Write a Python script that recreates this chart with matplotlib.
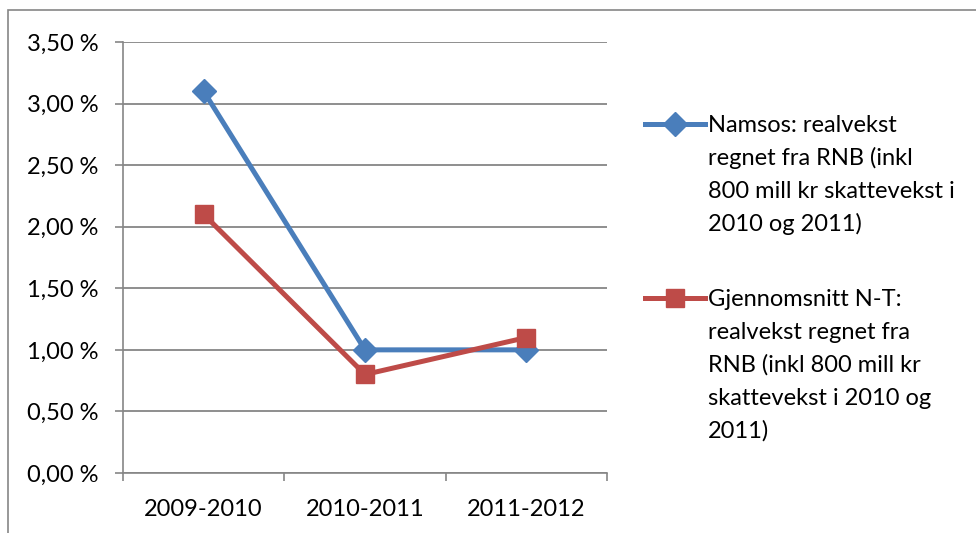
import matplotlib
matplotlib.use("Agg")
import matplotlib.pyplot as plt
from matplotlib.patches import Rectangle
from matplotlib.lines import Line2D

categories = ["2009-2010", "2010-2011", "2011-2012"]
namsos = [3.10, 1.00, 1.00]
snitt = [2.10, 0.80, 1.10]
yticks = [0.0, 0.5, 1.0, 1.5, 2.0, 2.5, 3.0, 3.5]
ytick_labels = ["0,00 %", "0,50 %", "1,00 %", "1,50 %", "2,00 %", "2,50 %", "3,00 %", "3,50 %"]
legend_lines = [
    ["Namsos: realvekst", "regnet fra RNB (inkl", "800 mill kr skattevekst i", "2010 og 2011)"],
    ["Gjennomsnitt N-T:", "realvekst regnet fra", "RNB (inkl 800 mill kr", "skattevekst i 2010 og", "2011)"],
]

plt.rcParams['font.family'] = ['Lato', 'DejaVu Sans']
FS = 17
blue = "#4A7EBB"
red = "#BE4B48"
grid = "#868686"
W, H = 976, 533
LW = 3.6

fig = plt.figure(figsize=(W/100, H/100), dpi=100)
fig.patches.append(Rectangle((8/W, -0.1), 1.2, 1.1 - 10/H, transform=fig.transFigure,
                             fill=False, edgecolor=grid, linewidth=1.2))
ax = fig.add_axes([123/W, 1-473/H, (607-123)/W, (473-42)/H])

x = list(range(len(categories)))
ax.plot(x, namsos, color=blue, lw=LW, marker="D", markersize=12, zorder=3)
ax.plot(x, snitt, color=red, lw=LW, marker="s", markersize=13, zorder=4)

ax.set_xlim(-0.5, 2.5)
ax.set_ylim(0, 3.5)
ax.set_yticks(yticks)
ax.set_yticklabels(ytick_labels, fontsize=FS)
ax.yaxis.grid(True, color=grid, lw=1.3)
ax.set_axisbelow(True)
ax.set_xticks(x)
ax.set_xticklabels(categories, fontsize=FS)
ax.set_xticks([-0.5, 0.5, 1.5, 2.5], minor=True)
ax.tick_params(axis="x", which="major", length=0, pad=19)
ax.tick_params(axis="x", which="minor", length=5.5, color=grid, width=1.2)
ax.tick_params(axis="y", length=5.5, color=grid, width=1.2, direction="out", pad=12)
for s in ["top", "right"]:
    ax.spines[s].set_visible(False)
for s in ["left", "bottom"]:
    ax.spines[s].set_color(grid)
    ax.spines[s].set_linewidth(1.2)

# legend drawn manually
def leg_entry(y_px, color, marker, ms, lines):
    yf = 1 - y_px/H
    fig.add_artist(Line2D([645/W, 705/W], [yf, yf], transform=fig.transFigure,
                          color=color, lw=LW))
    fig.add_artist(Line2D([675/W], [yf], transform=fig.transFigure, color=color,
                          marker=marker, markersize=ms, lw=0))
    for i, t in enumerate(lines):
        base = y_px + 8.5 + i*32.7
        fig.text(708/W, 1 - base/H, t, fontsize=FS, va="baseline", ha="left")

leg_entry(124, blue, "D", 12, legend_lines[0])
leg_entry(298, red, "s", 13, legend_lines[1])

fig.savefig("out.png", dpi=100)
